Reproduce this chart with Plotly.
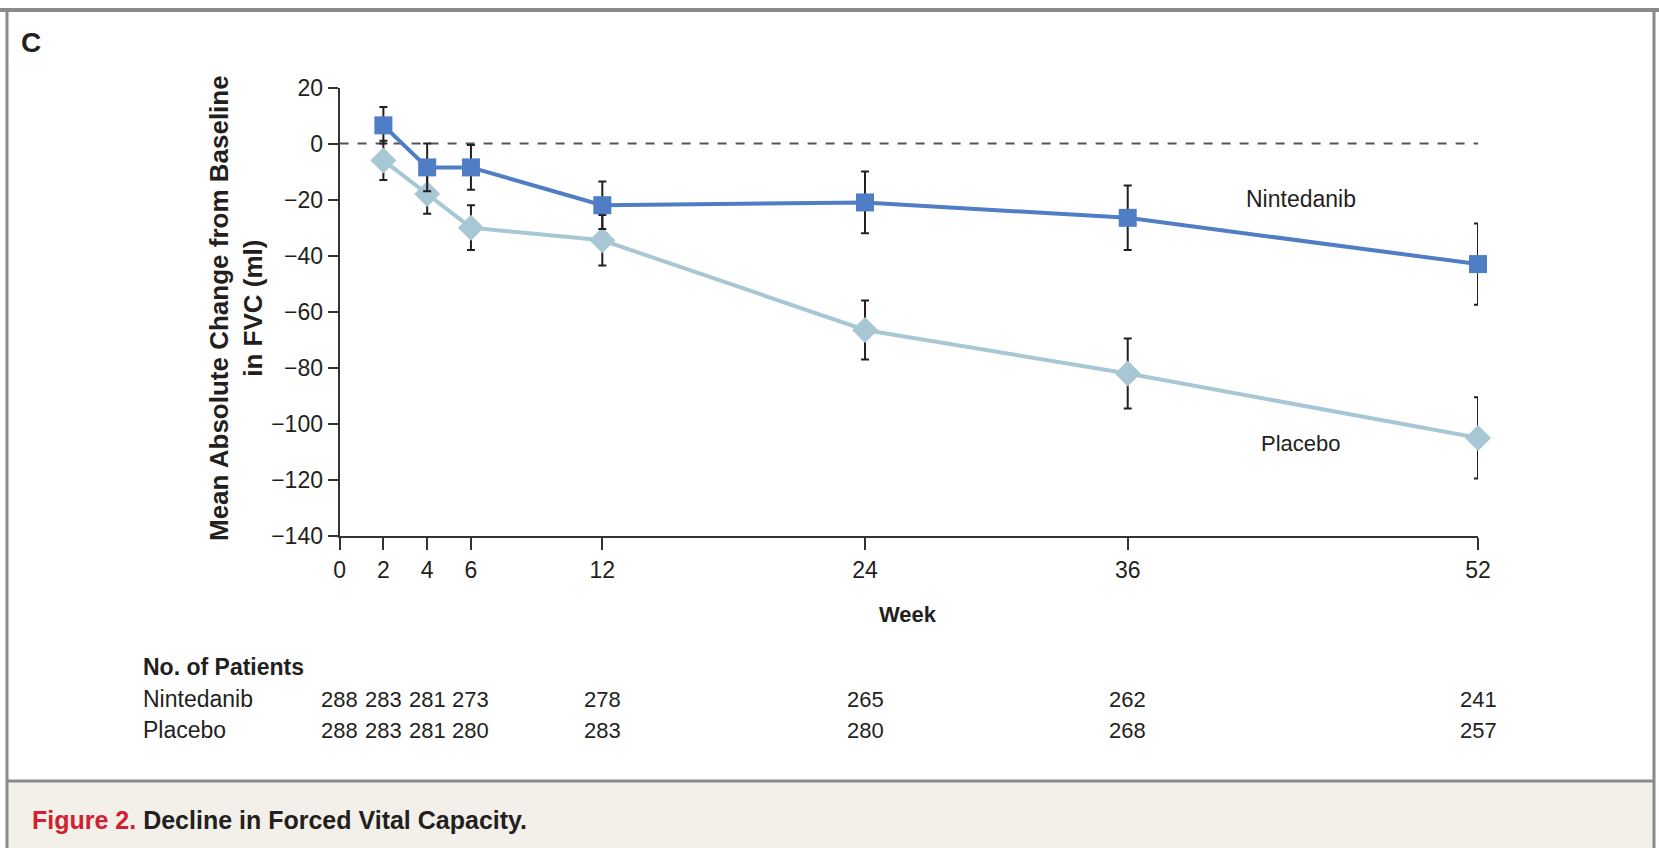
import plotly.graph_objects as go

# Weeks at which FVC was measured
weeks = [2, 4, 6, 12, 24, 36, 52]

# Mean absolute change from baseline in FVC (ml) and error half-widths
nintedanib_mean = [6.5, -8.5, -8.5, -22, -21, -26.5, -43]
nintedanib_err = [6.5, 8.5, 8, 8.5, 11, 11.5, 14.5]
placebo_mean = [-6, -18, -30, -34.5, -66.5, -82, -105]
placebo_err = [7, 7, 8, 9, 10.5, 12.5, 14.5]

# Number of patients at risk table
count_weeks = [0, 2, 4, 6, 12, 24, 36, 52]
nintedanib_n = [288, 283, 281, 273, 278, 265, 262, 241]
placebo_n = [288, 283, 281, 280, 283, 280, 268, 257]

x_ticks = [0, 2, 4, 6, 12, 24, 36, 52]
y_ticks = [20, 0, -20, -40, -60, -80, -100, -120, -140]

W, H = 1659, 848
SANS = "Liberation Sans, Arial, sans-serif"
INK = "#231F20"
BLUE = "#4F7EC4"
LIGHT = "#A8C7D4"


def px(x):
    return x / W


def py(y):
    return 1 - y / H


fig = go.Figure()

fig.add_trace(go.Scatter(
    x=weeks, y=placebo_mean, mode="lines+markers", name="Placebo",
    line=dict(color=LIGHT, width=4),
    marker=dict(symbol="diamond", size=20, color=LIGHT),
    error_y=dict(type="data", array=placebo_err, color=INK, thickness=2, width=4),
    cliponaxis=False,
))
fig.add_trace(go.Scatter(
    x=weeks, y=nintedanib_mean, mode="lines+markers", name="Nintedanib",
    line=dict(color=BLUE, width=4),
    marker=dict(symbol="square", size=18, color=BLUE),
    error_y=dict(type="data", array=nintedanib_err, color=INK, thickness=2, width=4),
    cliponaxis=False,
))

x0, x1 = 339.6, 1478
y_top, y_bot = 87.5, 536

annotations = []
shapes = []

# zero reference line
shapes.append(dict(type="line", xref="x", yref="y", x0=0, x1=52, y0=0, y1=0,
                   line=dict(color="#555555", width=2, dash="dash"), layer="below"))

# outer frame and caption band
shapes.append(dict(type="rect", xref="paper", yref="paper", x0=px(7), x1=px(1654),
                   y0=0, y1=py(781), fillcolor="#F3F0EA", line=dict(width=0)))
shapes.append(dict(type="line", xref="paper", yref="paper", x0=px(7), x1=px(1654),
                   y0=py(781), y1=py(781), line=dict(color="#8A8A8A", width=3)))
shapes.append(dict(type="line", xref="paper", yref="paper", x0=0, x1=1,
                   y0=py(10), y1=py(10), line=dict(color="#8A8A8A", width=4)))
shapes.append(dict(type="line", xref="paper", yref="paper", x0=px(7), x1=px(7),
                   y0=py(10), y1=0, line=dict(color="#8A8A8A", width=3)))
shapes.append(dict(type="line", xref="paper", yref="paper", x0=px(1654), x1=px(1654),
                   y0=py(10), y1=0, line=dict(color="#8A8A8A", width=3)))


def label(text, x, y, size, xanchor="center", **kw):
    annotations.append(dict(text=text, x=px(x), y=py(y), xref="paper", yref="paper",
                            xanchor=xanchor, yanchor="middle", showarrow=False,
                            font=dict(family=SANS, size=size, color=INK), **kw))


# panel letter
label("<b>C</b>", 31, 42, 28)

# axis titles
label("<b>Mean Absolute Change from Baseline<br>in FVC (ml)</b>", 236, 308, 26,
      textangle=-90, align="center")
label("<b>Week</b>", 908, 614, 22)

# series labels
label("Nintedanib", 1301, 199, 23)
label("Placebo", 1301, 443, 22)

# patients-at-risk table
label("<b>No. of Patients</b>", 141, 667, 23, xanchor="left")
for name, counts, yy in (("Nintedanib", nintedanib_n, 699), ("Placebo", placebo_n, 730)):
    label(name, 141, yy, 23, xanchor="left")
    for wk, n in zip(count_weeks, counts):
        annotations.append(dict(text=str(n), x=wk, y=py(yy), xref="x", yref="paper",
                                xanchor="center", yanchor="middle", showarrow=False,
                                font=dict(family=SANS, size=22, color=INK)))

# caption
label("<b><span style='color:#D1202F'>Figure 2.</span> Decline in Forced Vital Capacity.</b>",
      30, 820, 25, xanchor="left")

fig.update_layout(
    width=W, height=H,
    margin=dict(l=0, r=0, t=0, b=0, pad=0, autoexpand=False),
    paper_bgcolor="white", plot_bgcolor="white",
    showlegend=False, hovermode=False,
    shapes=shapes, annotations=annotations,
    xaxis=dict(domain=[px(x0), px(x1)], range=[0, 52], tickvals=x_ticks,
               ticktext=[str(t) for t in x_ticks], showgrid=False, zeroline=False,
               automargin=False,
               showline=True, linecolor="#333333", linewidth=2,
               ticks="outside", ticklen=12, tickwidth=2, tickcolor="#333333",
               tickfont=dict(family=SANS, size=23, color=INK)),
    yaxis=dict(domain=[py(y_bot), py(y_top)], range=[-140, 20], tickvals=y_ticks,
               ticktext=[str(t).replace("-", "\u2212") for t in y_ticks],
               showgrid=False, zeroline=False, automargin=False,
               showline=True, linecolor="#333333", linewidth=2,
               ticks="outside", ticklen=10, tickwidth=2, tickcolor="#333333",
               tickfont=dict(family=SANS, size=23, color=INK)),
)

fig.write_html("out.html")
